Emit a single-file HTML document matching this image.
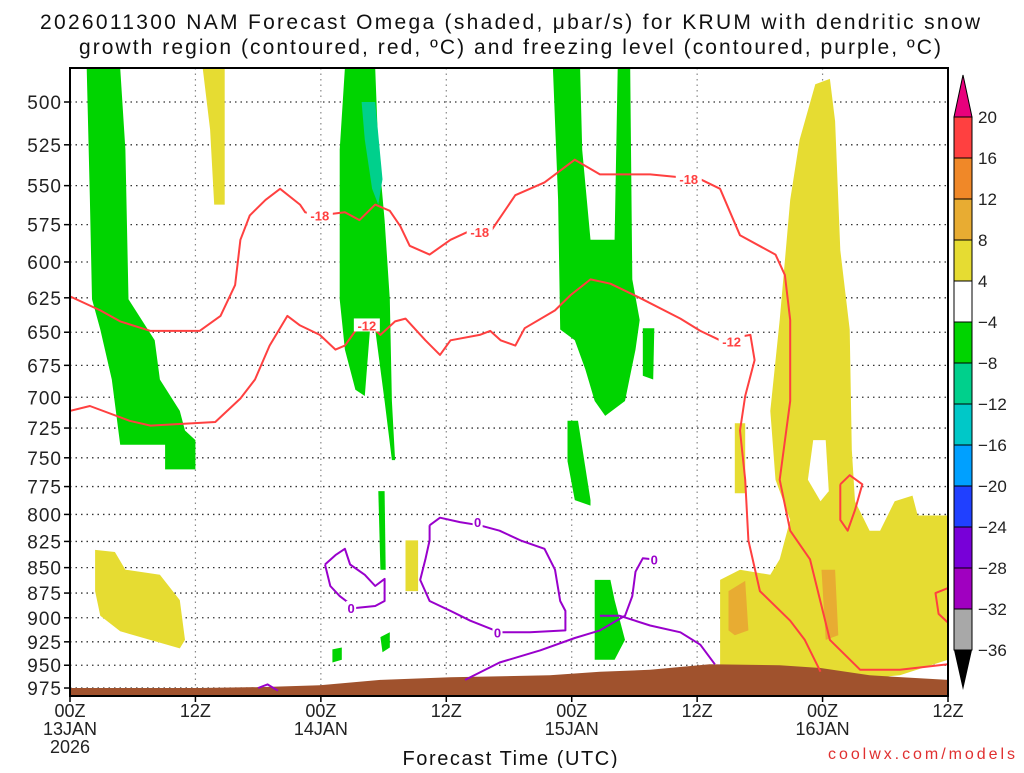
<!DOCTYPE html>
<html><head><meta charset="utf-8">
<style>
body{margin:0;background:#fff;width:1024px;height:768px;overflow:hidden;font-family:"Liberation Sans",sans-serif;}
svg text{font-family:"Liberation Sans",sans-serif;}
</style></head>
<body>
<svg id="chart" width="1024" height="768" xmlns="http://www.w3.org/2000/svg">
<text x="510" y="29" font-size="21" text-anchor="middle" fill="#111" textLength="940" lengthAdjust="spacing">2026011300 NAM Forecast Omega (shaded, μbar/s) for KRUM with dendritic snow</text>
<text x="510" y="54" font-size="21" text-anchor="middle" fill="#111" textLength="862" lengthAdjust="spacing">growth region (contoured, red, ºC) and freezing level (contoured, purple, ºC)</text>
<g id="grid"></g>
<g id="shade"></g>
<g id="lines"></g>
<g id="axes"></g>
<g id="cbar"></g>
<text x="510" y="765" font-size="20" text-anchor="middle" fill="#111" textLength="215" lengthAdjust="spacing">Forecast Time (UTC)</text>
<text x="1015" y="759" font-size="16" text-anchor="end" fill="#e03030" textLength="187" lengthAdjust="spacing">coolwx.com/models</text>
</svg>
<script>
const pressureTicks=[500,525,550,575,600,625,650,675,700,725,750,775,800,825,850,875,900,925,950,975];
const timeTicks=[0,12,24,36,48,60,72,84];
const timeLabels=[["00Z","13JAN","2026"],["12Z"],["00Z","14JAN"],["12Z"],["00Z","15JAN"],["12Z"],["00Z","16JAN"],["12Z"]];
const cbarLevels=[20,16,12,8,4,-4,-8,-12,-16,-20,-24,-28,-32,-36];
const cbarColors=["#ff4040","#f08828","#e8ac32","#e6dc32","#ffffff","#00d400","#00d08c","#00c8c8","#00a0ff","#2040ff","#7800d8","#a000c0","#a8a8a8"];
// shaded omega regions [hour, hPa]
const greenRegions=[
 [[1.6,481],[4.8,481],[5.3,528],[5.6,626],[8.1,656],[8.6,686],[10.5,711],[11,727],[12,735],[12,760],[9.1,760],[9.1,739],[4.8,739],[4,686],[2.9,648],[2.1,626],[1.9,559]],
 [[26.3,481],[29.2,481],[29.5,528],[30.1,572],[30.6,626],[30.8,703],[31.1,752],[30.8,752],[30.1,703],[29.2,648],[28.7,648],[28.2,699],[27.3,694],[26.3,663],[25.8,626],[25.8,528]],
 [[29.5,779],[30.1,779],[30.2,852],[29.7,852]],
 [[25.1,933],[26,931],[26,944],[25.1,947]],
 [[29.7,920],[30.6,915],[30.6,931],[29.9,936]],
 [[46.2,481],[48.8,481],[49,528],[49.8,585],[52.1,585],[52.4,481],[53.6,481],[53.8,612],[54.5,641],[54.1,663],[53.1,703],[51.2,715],[50.2,703],[49.3,678],[48.3,656],[46.9,648],[46.7,559]],
 [[54.8,647],[55.9,647],[55.8,686],[54.8,683]],
 [[47.6,719],[48.6,719],[49.8,787],[49.8,792],[48.3,787],[47.6,753]],
 [[50.2,862],[51.7,862],[52.1,882],[53.1,923],[52.1,944],[50.2,944]]
];
const tealRegions=[[[27.9,500],[29.2,500],[29.9,546],[29.5,562],[28.9,552],[28.2,522]]];
const yellowRegions=[
 [[12.7,481],[14.8,481],[14.8,562],[13.8,562],[13.4,516]],
 [[2.4,833],[4.3,835],[5.3,852],[8.6,857],[10.5,882],[11,923],[10.5,932],[4.8,914],[2.9,898],[2.4,873]],
 [[32.1,824],[33.3,824],[33.3,873],[32.1,873]],
 [[63.6,721],[64.6,721],[64.6,781],[63.6,781]],
 [[69.8,522],[71.3,490],[72.7,487],[73.2,511],[73.7,592],[74.6,648],[74.8,743],[75.1,788],[76.5,815],[77.5,815],[78.9,788],[80.6,783],[81.1,801],[84,801],[84,944],[79.4,961],[76.5,964],[71.8,955],[66,953],[62.2,953],[62.2,862],[64.1,852],[67,857],[67.9,842],[68.9,805],[67.5,769],[67,711],[67.9,641],[68.4,599],[68.9,559]]
];
const whiteHoles=[[[71.1,735],[72.3,735],[72.6,779],[71.8,788],[70.6,769]]];
const orangeRegions=[
 [[63,873],[64.6,863],[64.9,913],[63.6,918],[63,913]],
 [[71.9,852],[73.2,852],[73.5,918],[72.3,923]]
];
const terrainTop=[[0,975],[7.7,975],[12.4,975],[18.2,974],[23.9,972],[29.7,966],[36.4,963],[45.9,961],[50.7,957],[55.5,955],[61.2,949],[67.9,950],[71.8,953],[76.5,961],[84,966]];
// contours
const contourM18=[[0,624],[2.9,634],[4.8,642],[7.7,649],[10.5,649],[12.4,649],[14.4,638],[15.8,616],[16.3,585],[17.2,569],[18.7,559],[20.1,552],[22,562],[22.5,567],[23.9,569],[26.3,567],[27.7,572],[29.2,562],[30.6,566],[31.6,576],[32.5,589],[34.4,595],[36.4,585],[38.3,579],[40.2,580],[42.6,556],[45.4,548],[48.3,534],[50.7,543],[55.5,543],[60.3,546],[62.2,552],[64.1,582],[67.5,595],[68.4,609],[68.9,641],[68.9,703],[67.9,769],[68.9,815],[70.8,842],[72.7,923],[75.6,955],[79.4,955],[84,949]];
const contourM12=[[0,711],[1.9,707],[5.7,719],[7.7,723],[13.9,720],[16.3,701],[17.7,686],[19.1,660],[20.8,638],[22,645],[23.9,652],[25.4,663],[26.3,660],[27.3,649],[28.7,645],[29.7,652],[31.1,642],[32.1,640],[34,656],[35.4,667],[36.4,656],[39.2,652],[40.2,649],[41.2,656],[42.6,660],[43.5,647],[46.4,634],[47.9,623],[49.8,612],[51.7,615],[54.5,625],[58.4,640],[60.3,649],[62.2,656],[65.1,652],[65.5,671],[64.6,699],[64.1,727],[64.6,769],[64.9,824],[66,873],[68.9,903],[70.3,923],[71.8,957]];
const contourM12Loop=[[73.7,773],[74.6,765],[75.8,773],[75.1,796],[74.4,815],[73.7,805],[73.7,773]];
const contourM12Edge=[[84,870],[82.8,875],[83.1,896],[84,905]];
const freezeA=[[24.4,847],[25.4,838],[26.3,832],[26.8,847],[28.2,857],[29.2,868],[30.1,861],[30.1,883],[29.2,888],[27.3,890],[25.8,878],[24.9,868],[24.4,847]];
const freezeB=[[34.4,810],[35.4,803],[37.3,807],[39.2,810],[41.1,815],[43.1,824],[45.4,832],[46.4,852],[46.9,883],[47.4,893],[47.4,913],[44,915],[41.1,915],[38.3,903],[36.4,893],[34.4,883],[33.5,862],[34,842],[34.4,824],[34.4,810]];
const freezeC=[[37.8,966],[41.1,947],[45,934],[48.3,921],[50.7,913],[53.1,898],[53.8,878],[54.1,854],[54.8,841],[55.7,842]];
const freezeD=[[50.7,898],[52.6,898],[55.5,908],[58.4,915],[60.3,928],[61.7,949]];
const freezeE=[[18,975],[18.9,971],[19.9,978]];
const contourLabels=[["-18",23.9,569,"#ff4040"],["-18",39.2,580,"#ff4040"],["-18",59.2,546,"#ff4040"],["-12",28.4,645,"#ff4040"],["-12",63.3,657,"#ff4040"],["0",26.9,890,"#9900cc"],["0",39,807,"#9900cc"],["0",40.9,915,"#9900cc"],["0",55.9,842,"#9900cc"]];

const L=70,R=948,T=68,B=696;
const X=h=>L+h*(R-L)/84;
const Y=p=>102+877.5*Math.log(p/500);
const NS="http://www.w3.org/2000/svg";
function mk(tag,parent,attrs){const e=document.createElementNS(NS,tag);for(const k in attrs)e.setAttribute(k,attrs[k]);parent.appendChild(e);return e;}
const pts=a=>a.map(q=>X(q[0]).toFixed(1)+","+Y(q[1]).toFixed(1)).join(" ");
const clip=mk("clipPath",document.getElementById("chart"),{id:"pc"});
mk("rect",clip,{x:L,y:T,width:R-L,height:B-T});
const shade=document.getElementById("shade");shade.setAttribute("clip-path","url(#pc)");
function polys(list,color,name){list.forEach(a=>{const e=mk("polygon",shade,{points:pts(a),fill:color});

});}
polys(greenRegions,"#00d400","omega-green-region");
polys(tealRegions,"#00d08c","omega-teal-region");
polys(yellowRegions,"#e6dc32","omega-yellow-region");
polys(whiteHoles,"#ffffff","omega-white-gap");
polys(orangeRegions,"#e8ac32","omega-orange-region");
const terr=terrainTop.concat([[84,1000],[0,1000]]);
const te=mk("polygon",shade,{points:pts(terr),fill:"#a0522d"});



const grid=document.getElementById("grid"),axes=document.getElementById("axes");
pressureTicks.forEach(p=>{
 const g=mk("line",grid,{x1:L,x2:R,y1:Y(p),y2:Y(p),stroke:"#333","stroke-width":1.3,"stroke-dasharray":"1.5,4"});
 
 
 const t=mk("text",axes,{x:L-8,y:Y(p)+7,"font-size":19,"text-anchor":"end",fill:"#222","letter-spacing":"1"});t.textContent=p;
 
 
 mk("line",axes,{x1:L-6,x2:L,y1:Y(p),y2:Y(p),stroke:"#000","stroke-width":1.5});
});
timeTicks.forEach((h,i)=>{
 if(h>0&&h<84){const g=mk("line",grid,{x1:X(h),x2:X(h),y1:T,y2:B,stroke:"#888","stroke-width":1.2,"stroke-dasharray":"1.5,4"});
 
 }
 mk("line",axes,{x1:X(h),x2:X(h),y1:B,y2:B+6,stroke:"#000","stroke-width":1.5});
 timeLabels[i].forEach((s,j)=>{const t=mk("text",axes,{x:X(h),y:B+21+j*18,"font-size":18,"text-anchor":"middle",fill:"#222"});t.textContent=s;
 
 });
});
const fr=mk("rect",axes,{x:L,y:T,width:R-L,height:B-T,fill:"none",stroke:"#000","stroke-width":2});



const lines=document.getElementById("lines");lines.setAttribute("clip-path","url(#pc)");
function pl(a,c,name){const e=mk("polyline",lines,{points:pts(a),fill:"none",stroke:c,"stroke-width":2,"stroke-linejoin":"round"});

}
[contourM18,contourM12,contourM12Loop,contourM12Edge].forEach(a=>pl(a,"#ff4040","dgz-contour"));
[freezeA,freezeB,freezeC,freezeD,freezeE].forEach(a=>pl(a,"#9900cc","freezing-contour"));
contourLabels.forEach(c=>{const bw=c[0].length*8+2;
 mk("rect",lines,{x:X(c[1])-bw/2,y:Y(c[2])-7,width:bw,height:13,fill:"#fff"});
 const t=mk("text",lines,{x:X(c[1]),y:Y(c[2])+5,"font-size":13,"font-weight":"bold","text-anchor":"middle",fill:c[3]});t.textContent=c[0];
 
 });

const cb=document.getElementById("cbar");
const cx=954,cw=18,c0=117,cs=(650-117)/13;
const up=mk("polygon",cb,{points:`${cx},${c0} ${cx+cw},${c0} ${cx+cw/2},75`,fill:"#e8007c",stroke:"#000","stroke-width":1});


cbarColors.forEach((c,i)=>{const r=mk("rect",cb,{x:cx,y:c0+i*cs,width:cw,height:cs,fill:c,stroke:"#000","stroke-width":1});
 
 });
const dn=mk("polygon",cb,{points:`${cx},650 ${cx+cw},650 ${cx+cw/2},690`,fill:"#000"});


cbarLevels.forEach((v,i)=>{const t=mk("text",cb,{x:978,y:c0+i*cs+6,"font-size":17,fill:"#222"});t.textContent=(v<0?"\u2212":"")+Math.abs(v);
 
 });
</script>
</body></html>
